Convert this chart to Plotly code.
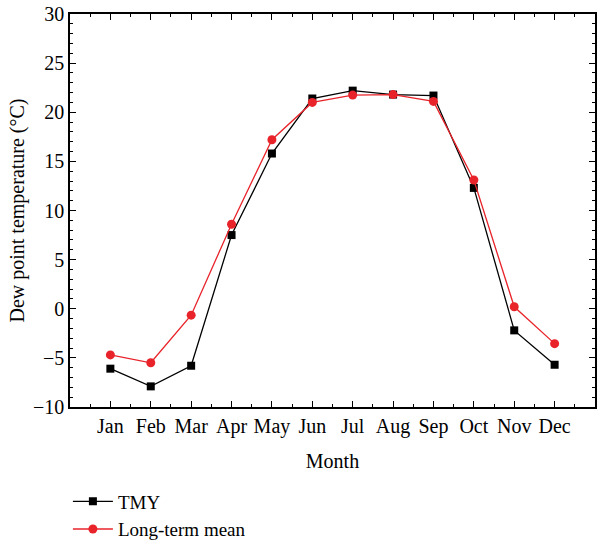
import plotly.graph_objects as go

months = ["Jan", "Feb", "Mar", "Apr", "May", "Jun", "Jul", "Aug", "Sep", "Oct", "Nov", "Dec"]
month_pos = [1, 2, 3, 4, 5, 6, 7, 8, 9, 10, 11, 12]
tmy = [-6.1, -7.9, -5.8, 7.5, 15.8, 21.4, 22.2, 21.8, 21.7, 12.3, -2.2, -5.7]
long_term = [-4.7, -5.5, -0.65, 8.6, 17.2, 21.0, 21.75, 21.8, 21.1, 13.1, 0.2, -3.55]

FONT = "Liberation Serif, Times New Roman, serif"
FS = 20

fig = go.Figure()
fig.add_trace(go.Scatter(
    x=month_pos, y=tmy, name="TMY", mode="lines+markers",
    line=dict(color="black", width=1.3),
    marker=dict(symbol="square", size=8, color="black"),
))
fig.add_trace(go.Scatter(
    x=month_pos, y=long_term, name="Long-term mean", mode="lines+markers",
    line=dict(color="#e8232a", width=1.3),
    marker=dict(symbol="circle", size=9, color="#e8232a"),
))

axis_common = dict(
    showline=True, linecolor="black", linewidth=1.5, mirror="allticks",
    ticks="inside", ticklen=6, tickwidth=1.2, tickcolor="black",
    showgrid=False, zeroline=False, automargin=False,
    tickfont=dict(family=FONT, size=FS, color="black"),
)

fig.update_xaxes(
    **axis_common,
    range=[0, 13], tickmode="array", tickvals=month_pos, ticktext=months,
    minor=dict(ticks="inside", ticklen=3, tickwidth=1, tickcolor="black", dtick=0.5, tick0=0, showgrid=False),
    title=dict(text="Month", font=dict(family=FONT, size=FS, color="black"), standoff=17),
)
fig.update_yaxes(
    **axis_common,
    range=[-10, 30], tickmode="linear", tick0=-10, dtick=5,
    minor=dict(ticks="inside", ticklen=3, tickwidth=1, tickcolor="black", dtick=1, showgrid=False),
    title=dict(text="Dew point temperature (°C)", font=dict(family=FONT, size=FS, color="black"), standoff=3),
)

fig.update_layout(
    width=597, height=544,
    margin=dict(l=70, r=2, t=14, b=137, autoexpand=False),
    plot_bgcolor="white", paper_bgcolor="white",
    showlegend=True,
    legend=dict(
        x=-0.004, y=-0.192, xanchor="left", yanchor="top",
        font=dict(family=FONT, size=19, color="black"),
        tracegroupgap=0, itemwidth=40,
        bgcolor="rgba(0,0,0,0)",
    ),
)

fig.write_html("out.html", config={"displayModeBar": False},
               post_script="document.body.style.margin='0';")
